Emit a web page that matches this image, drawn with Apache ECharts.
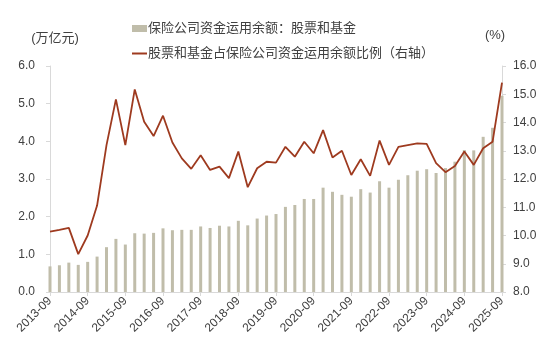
<!DOCTYPE html>
<html>
<head>
<meta charset="utf-8">
<style>
html,body{margin:0;padding:0;background:#fff;}
#chart{width:550px;height:356px;}
</style>
<script src="https://cdn.jsdelivr.net/npm/echarts@6/dist/echarts.min.js"></script>
</head>
<body>
<div id="chart"></div>
<script>
var categories = [
  '2013-09','2013-12','2014-03','2014-06','2014-09','2014-12','2015-03','2015-06',
  '2015-09','2015-12','2016-03','2016-06','2016-09','2016-12','2017-03','2017-06',
  '2017-09','2017-12','2018-03','2018-06','2018-09','2018-12','2019-03','2019-06',
  '2019-09','2019-12','2020-03','2020-06','2020-09','2020-12','2021-03','2021-06',
  '2021-09','2021-12','2022-03','2022-06','2022-09','2022-12','2023-03','2023-06',
  '2023-09','2023-12','2024-03','2024-06','2024-09','2024-12','2025-03','2025-06',
  '2025-09'
];
var stockFundBalance = [
  0.68, 0.71, 0.78, 0.72, 0.80, 0.94, 1.19, 1.41, 1.26, 1.56,
  1.55, 1.57, 1.69, 1.64, 1.65, 1.65, 1.74, 1.70, 1.76, 1.74,
  1.89, 1.77, 1.95, 2.03, 2.07, 2.26, 2.31, 2.47, 2.47,
  2.77, 2.66, 2.58, 2.53, 2.73, 2.64, 2.94, 2.77, 2.98, 3.10,
  3.22, 3.26, 3.16, 3.29, 3.46, 3.77, 3.76, 4.12, 4.36, 5.21
];
var stockFundRatio = [
  10.14, 10.20, 10.27, 9.34, 10.00, 11.06, 13.20, 14.82, 13.20, 15.17,
  14.03, 13.52, 14.24, 13.29, 12.73, 12.36, 12.84, 12.32, 12.44, 12.03,
  12.97, 11.71, 12.38, 12.61, 12.58, 13.14, 12.79, 13.32, 12.91,
  13.73, 12.76, 13.00, 12.14, 12.70, 12.11, 13.36, 12.50, 13.14, 13.20,
  13.26, 13.24, 12.56, 12.24, 12.46, 12.97, 12.50, 13.09, 13.32, 15.41
];
var barName = '保险公司资金运用余额：股票和基金';
var lineName = '股票和基金占保险公司资金运用余额比例（右轴）';

var FONT = '"Liberation Sans", Arial, "Noto Sans CJK SC", sans-serif';
var TXT = '#404040';
var AXC = '#D9D9D9';

var chart = echarts.init(document.getElementById('chart'), null, {renderer: 'canvas'});
chart.setOption({
  animation: false,
  textStyle: {fontFamily: FONT, color: TXT},
  legend: [
    {
      data: [{name: barName, icon: 'rect'}], left: 127, top: 17, itemWidth: 15, itemHeight: 7,
      textStyle: {fontSize: 13, color: TXT, fontFamily: FONT, padding: [0,0,0,-4]}
    },
    {
      data: [{name: lineName, icon: 'rect'}], left: 127, top: 42, itemWidth: 15, itemHeight: 2,
      textStyle: {fontSize: 13, color: TXT, fontFamily: FONT, padding: [0,0,0,-4]}
    }
  ],
  grid: {left: 50, right: 48, top: 66, bottom: 64, containLabel: false},
  xAxis: {
    type: 'category',
    data: categories,
    boundaryGap: false,
    axisLine: {lineStyle: {color: AXC, width: 1}},
    axisTick: {interval: 3, length: 4, lineStyle: {color: AXC}},
    axisLabel: {interval: 3, rotate: 45, fontSize: 12, color: TXT, fontFamily: FONT, margin: 7},
    splitLine: {show: false}
  },
  yAxis: [
    {
      type: 'value', min: 0, max: 6, interval: 1,
      name: '(万亿元)', nameLocation: 'end', nameGap: 21,
      nameTextStyle: {fontSize: 13, color: TXT, fontFamily: FONT, padding: [0,0,0,10]},
      axisLine: {show: true, lineStyle: {color: AXC}},
      axisTick: {show: true, length: 4, lineStyle: {color: AXC}},
      axisLabel: {fontSize: 12, color: TXT, fontFamily: FONT, margin: 15,
        formatter: function (v) { return v.toFixed(1); }},
      splitLine: {show: false}
    },
    {
      type: 'value', min: 8, max: 16, interval: 1, position: 'right',
      name: '(%)', nameLocation: 'end', nameGap: 24,
      nameTextStyle: {fontSize: 13, color: TXT, fontFamily: FONT, padding: [0,14,0,0]},
      axisLine: {show: true, lineStyle: {color: AXC}},
      axisTick: {show: true, length: 4, lineStyle: {color: AXC}},
      axisLabel: {fontSize: 12, color: TXT, fontFamily: FONT, margin: 11,
        formatter: function (v) { return v.toFixed(1); }},
      splitLine: {show: false}
    }
  ],
  series: [
    {
      name: barName, type: 'bar', yAxisIndex: 0,
      data: stockFundBalance, barWidth: 3,
      itemStyle: {color: '#C0BDAA'}
    },
    {
      name: lineName, type: 'line', yAxisIndex: 1,
      data: stockFundRatio, symbol: 'none', smooth: false,
      lineStyle: {color: '#9E3A1F', width: 1.8},
      itemStyle: {color: '#9E3A1F'}
    }
  ]
});
</script>
</body>
</html>
